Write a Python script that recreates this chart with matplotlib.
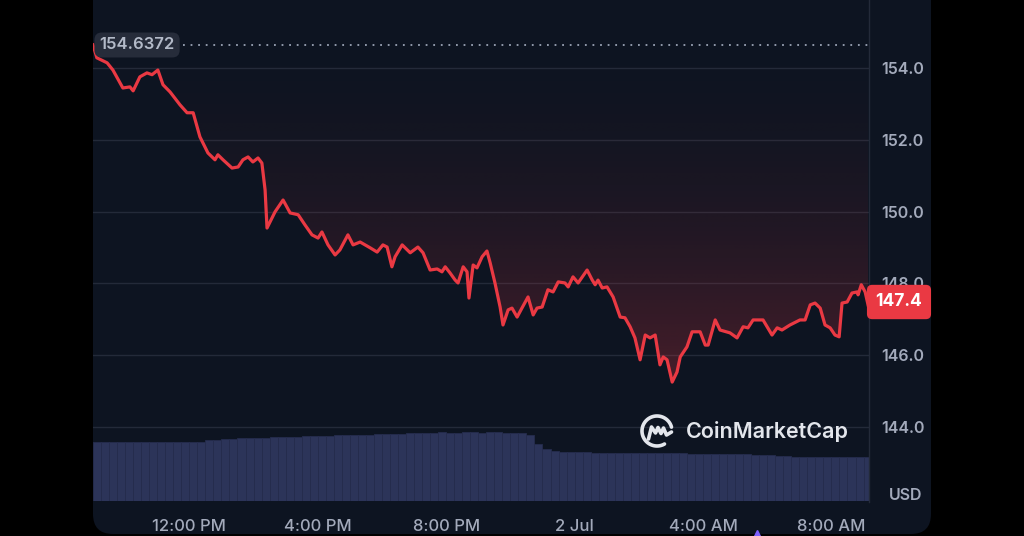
import numpy as np
import matplotlib
matplotlib.use("Agg")
import matplotlib.pyplot as plt
from matplotlib.patches import FancyBboxPatch
from matplotlib.colors import to_rgb

plt.rcParams['font.family'] = ['Inter', 'DejaVu Sans']

# ---------------- data ----------------
# hours since 09:00 AM, 1 Jul
hours = [0.00, 0.12, 0.44, 0.62, 0.93, 1.15, 1.25, 1.46, 1.68, 1.84, 2.02, 2.18, 2.40, 2.71, 2.93,
         3.12, 3.33, 3.58, 3.80, 3.89, 4.05, 4.33, 4.52, 4.67, 4.83, 4.98, 5.14, 5.26, 5.36, 5.42,
         5.67, 5.92, 6.14, 6.39, 6.60, 6.82, 7.01, 7.13, 7.32, 7.54, 7.69, 7.94, 8.10, 8.32, 8.63,
         8.85, 9.03, 9.16, 9.31, 9.41, 9.63, 9.88, 10.12, 10.28, 10.50, 10.72, 10.87, 10.97, 11.12,
         11.28, 11.37, 11.53, 11.65, 11.71, 11.84, 11.96, 12.12, 12.27, 12.37, 12.52, 12.68, 12.77,
         12.93, 13.05, 13.21, 13.36, 13.55, 13.71, 13.83, 13.99, 14.17, 14.33, 14.49, 14.70, 14.80,
         14.95, 15.11, 15.39, 15.55, 15.64, 15.73, 15.86, 16.01, 16.20, 16.42, 16.57, 16.73, 16.88,
         17.04, 17.20, 17.35, 17.51, 17.66, 17.76, 17.88, 18.04, 18.19, 18.29, 18.50, 18.66, 18.91,
         19.07, 19.16, 19.38, 19.53, 19.84, 20.06, 20.25, 20.40, 20.56, 20.87, 21.15, 21.31, 21.46,
         21.71, 22.02, 22.18, 22.34, 22.49, 22.65, 22.80, 22.96, 23.11, 23.24, 23.33, 23.49, 23.64,
         23.80, 23.83, 23.93, 24.05, 24.14]
price = [154.64, 154.28, 154.14, 153.94, 153.44, 153.47, 153.36, 153.75, 153.86, 153.81, 153.94,
         153.53, 153.33, 152.97, 152.75, 152.75, 152.08, 151.63, 151.44, 151.58, 151.44, 151.21,
         151.24, 151.44, 151.52, 151.38, 151.49, 151.35, 150.60, 149.54, 149.99, 150.32, 149.96,
         149.91, 149.63, 149.35, 149.26, 149.43, 149.07, 148.79, 148.93, 149.35, 149.07, 149.15,
         148.99, 148.87, 149.07, 149.01, 148.46, 148.74, 149.07, 148.85, 149.01, 148.85, 148.37,
         148.40, 148.32, 148.46, 148.29, 148.09, 148.01, 148.46, 148.32, 147.59, 148.51, 148.43,
         148.74, 148.90, 148.57, 148.01, 147.34, 146.84, 147.26, 147.31, 147.06, 147.31, 147.62,
         147.12, 147.31, 147.34, 147.82, 147.76, 148.04, 148.01, 147.90, 148.18, 148.01, 148.37,
         148.09, 147.96, 148.09, 147.87, 147.90, 147.62, 147.06, 147.04, 146.79, 146.48, 145.87,
         146.56, 146.48, 146.56, 145.73, 145.95, 145.87, 145.25, 145.53, 145.95, 146.23, 146.65,
         146.65, 146.28, 146.28, 146.98, 146.70, 146.62, 146.48, 146.79, 146.76, 146.98, 146.98,
         146.56, 146.76, 146.70, 146.84, 146.98, 146.98, 147.40, 147.45, 147.31, 146.84, 146.76,
         146.56, 146.51, 147.45, 147.48, 147.73, 147.76, 147.68, 147.96, 147.76, 147.40]

# relative 24h volume, one value per 15 minutes
volume = [59, 59, 59, 59, 59, 59, 59, 59, 59, 59, 59, 59, 59, 59,
          61, 61, 62, 62, 63, 63, 63, 63,
          64, 64,
          64, 64, 65, 65, 65, 65, 66, 66, 66, 66,
          66, 67, 67, 67, 67, 68,
          68, 68, 68, 69, 68, 68, 69, 69, 68, 69, 69, 68, 68, 68,
          66, 57, 52, 50,
          49, 49, 49, 49, 48, 48, 48, 48, 48, 48, 48, 48,
          48, 48, 48, 48, 47, 47, 47, 47, 47, 47,
          47, 47, 46, 46, 46, 45, 45, 44, 44, 44,
          44, 44, 44, 44, 44, 44, 44]
vol_step = 0.25

open_price = 154.6372
last_price = 147.4
y_ticks = [144.0, 146.0, 148.0, 150.0, 152.0, 154.0]
x_tick_hours = [3, 7, 11, 15, 19, 23]
x_tick_labels = ["12:00 PM", "4:00 PM", "8:00 PM", "2 Jul", "4:00 AM", "8:00 AM"]

# ---------------- style ----------------
BG = '#0d1421'
RED = '#ea3943'
GRID = '#232a39'
TXT = '#a3aabb'
XMAX = 24.17
YMIN, YMAX = 141.91, 155.89

fig = plt.figure(figsize=(10.24, 5.36), dpi=100)
fig.patch.set_facecolor('black')

panel = FancyBboxPatch((0.93, 0.02), 8.38, 5.6, boxstyle="round,pad=0,rounding_size=0.2",
                       transform=fig.dpi_scale_trans, facecolor=BG, edgecolor='none', zorder=-5)
fig.patches.append(panel)

# volume axes
vax = fig.add_axes([93 / 1024, 35 / 536, 776 / 1024, 100 / 536])
vax.set_facecolor('none')
vt = [i * vol_step + vol_step / 2 for i in range(len(volume))]
vax.bar(vt, volume, width=vol_step, color='#2c3459', edgecolor='#252c4d', linewidth=0.6)
vax.set_xlim(0, XMAX)
vax.set_ylim(0, 100)
vax.axis('off')

# price axes
ax = fig.add_axes([93 / 1024, 34 / 536, 776 / 1024, 502 / 536])
ax.set_facecolor('none')
ax.set_zorder(2)
ax.set_xlim(0, XMAX)
ax.set_ylim(YMIN, YMAX)

# gradient fill above the line
poly = ax.fill_between(hours, price, YMAX, color='none', linewidth=0)
ny = 300
yy = np.linspace(YMIN, YMAX, ny)
frac = np.clip((YMAX - yy) / (YMAX - 145.0), 0, 1)
alpha = 0.28 * frac ** 2
rgba = np.zeros((ny, 2, 4))
rgba[:, :, :3] = to_rgb(RED)
rgba[:, :, 3] = alpha[:, None]
img = ax.imshow(rgba, extent=[0, XMAX, YMIN, YMAX], origin='lower', aspect='auto',
                zorder=1, interpolation='bilinear')
img.set_clip_path(poly.get_paths()[0], transform=ax.transData)

ax.plot(hours, price, color=RED, linewidth=2.3, zorder=4, solid_joinstyle='round')

# open price dotted line + label
ax.plot([2.8, XMAX], [open_price, open_price], color='#9aa3b5', linewidth=1.3,
        linestyle=(0, (1, 3.2)), zorder=3)
ax.text(0.2, open_price, f"{open_price}", color='#b3bac8', fontsize=12, fontweight='semibold',
        va='center', ha='left', zorder=5,
        bbox=dict(boxstyle='round,pad=0.3,rounding_size=0.45', facecolor='#262c3a', edgecolor='none'))

# axes styling
for s in ['top', 'left', 'bottom']:
    ax.spines[s].set_visible(False)
ax.spines['right'].set_color(GRID)
ax.spines['right'].set_linewidth(1.0)
ax.yaxis.tick_right()
ax.set_yticks(y_ticks)
ax.set_yticklabels([f"{v:.1f}" for v in y_ticks])
ax.tick_params(axis='y', length=0, pad=9, labelsize=11.5, labelcolor=TXT)
for lab in ax.get_yticklabels():
    lab.set_fontweight('semibold')
ax.set_xticks(x_tick_hours)
ax.set_xticklabels(x_tick_labels)
ax.tick_params(axis='x', length=0, pad=12, labelsize=12, labelcolor=TXT)
for lab in ax.get_xticklabels():
    lab.set_fontweight('medium')
ax.grid(axis='y', color=GRID, linewidth=1.0, zorder=0)
ax.set_axisbelow(True)

# USD and last-price tag
fig.text(906 / 1024, 1 - 496 / 536, "USD", color=TXT, fontsize=11.5, fontweight='semibold',
         ha='center', va='center')
fig.text(899 / 1024, 1 - 302 / 536, f"{last_price}", color='white', fontsize=12.5, fontweight='bold',
         ha='center', va='center', zorder=10,
         bbox=dict(boxstyle='round,pad=0.5,rounding_size=0.3', facecolor=RED, edgecolor='none'))

# overlay for watermark (pixel coordinates)
ov = fig.add_axes([0, 0, 1, 1])
ov.set_xlim(0, 1024)
ov.set_ylim(536, 0)
ov.axis('off')
ov.set_zorder(5)
cx, cy, r = 657, 431, 15
th = np.radians(np.linspace(15, 300, 100))
ov.plot(cx + r * np.cos(th), cy - r * np.sin(th), color='#e3e6ec', linewidth=2.6,
        solid_capstyle='round')
mx = np.array([-8.5, -5.5, -1.5, 1.0, 4.0, 6.5, 9.5, 14.5])
my = np.array([-8.0, 4.0, -2.0, 3.5, -2.5, 3.0, -4.0, -1.0])
ov.plot(cx + mx, cy - my, color='#e3e6ec', linewidth=2.6, solid_capstyle='round',
        solid_joinstyle='round')
ov.text(686, 432, "CoinMarketCap", color='#e3e6ec', fontsize=15.5, fontweight='semibold',
        ha='left', va='center')
ov.plot([757], [534], marker='^', color='#7d5fff', markersize=6)

fig.savefig("out.png", dpi=100, facecolor=fig.get_facecolor())
